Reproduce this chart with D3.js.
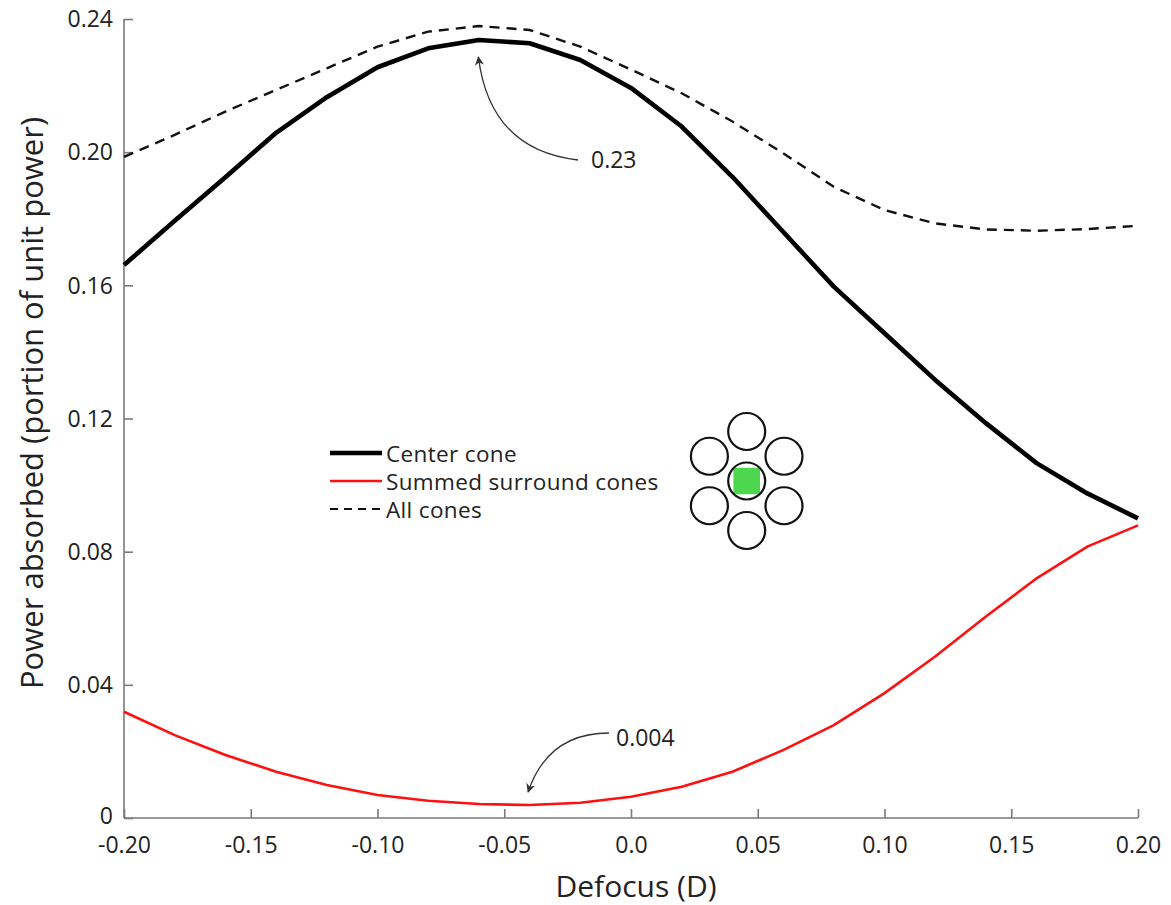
<!DOCTYPE html>
<html><head><meta charset="utf-8">
<script src="https://cdn.jsdelivr.net/npm/d3@7"></script>
<style>
html,body{margin:0;padding:0;background:#fff;}
text{font-family:"Open Sans","Noto Sans",sans-serif;}
</style></head>
<body>
<svg id="chart" width="1171" height="905"></svg>
<script>
const defocus = [-0.20,-0.18,-0.16,-0.14,-0.12,-0.10,-0.08,-0.06,-0.04,-0.02,0.00,0.02,0.04,0.06,0.08,0.10,0.12,0.14,0.16,0.18,0.20];
const centerCone = [0.1661,0.1794,0.1925,0.2058,0.2165,0.2255,0.2312,0.2337,0.2327,0.2277,0.2193,0.2077,0.1926,0.1761,0.1596,0.1456,0.1316,0.1186,0.1066,0.0975,0.0900];
const surroundCones = [0.0319,0.0249,0.0189,0.0139,0.0099,0.0069,0.0052,0.0042,0.0039,0.0046,0.0064,0.0094,0.0139,0.0204,0.0279,0.0375,0.0485,0.0605,0.0720,0.0815,0.0879];
const allCones = [0.1986,0.2052,0.2122,0.2187,0.2252,0.2317,0.2362,0.2379,0.2367,0.2317,0.2248,0.2177,0.2092,0.1997,0.1896,0.1826,0.1786,0.1768,0.1764,0.1769,0.1779];
const xTicks = [-0.20,-0.15,-0.10,-0.05,0.0,0.05,0.10,0.15,0.20];
const xTickLabels = ["-0.20","-0.15","-0.10","-0.05","0.0","0.05","0.10","0.15","0.20"];
const yTicks = [0,0.04,0.08,0.12,0.16,0.20,0.24];
const yTickLabels = ["0","0.04","0.08","0.12","0.16","0.20","0.24"];
const legendLabels = ["Center cone","Summed surround cones","All cones"];
const annotations = [{label:"0.23", x:-0.06, y:0.2337},{label:"0.004", x:-0.04, y:0.0039}];

const svg = d3.select("#chart");
const m = {left:124, right:1171-1138, top:19, bottom:905-818};
const W = 1171, H = 905;
const x = d3.scaleLinear().domain([-0.20,0.20]).range([m.left, W-m.right]);
const y = d3.scaleLinear().domain([0,0.24]).range([H-m.bottom, m.top]);
const axisColor = "#7a7a7a";

// axes
const gx = svg.append("g").attr("transform",`translate(0,${y(0)})`)
  .call(d3.axisBottom(x).tickValues(xTicks).tickSize(-9).tickPadding(0).tickFormat((d,i)=>xTickLabels[i]));
gx.select(".domain").attr("stroke",axisColor).attr("stroke-width",1.6).attr("d",`M${x(-0.2)},0H${x(0.2)}`);
gx.selectAll(".tick line").attr("stroke",axisColor).attr("stroke-width",1.6);
gx.selectAll(".tick text").attr("font-size",23).attr("fill","#222").attr("y",34.5).attr("dy",0);

const gy = svg.append("g").attr("transform",`translate(${x(-0.2)},0)`)
  .call(d3.axisLeft(y).tickValues(yTicks).tickSize(-9).tickPadding(0).tickFormat((d,i)=>yTickLabels[i]));
gy.select(".domain").attr("stroke",axisColor).attr("stroke-width",1.6).attr("d",`M0,${y(0.24)}V${y(0)}`);
gy.selectAll(".tick line").attr("stroke",axisColor).attr("stroke-width",1.6);
gy.selectAll(".tick text").attr("font-size",23).attr("fill","#222").attr("x",-11)
  .attr("dy",d=>d===0 ? "0.24em" : "0.34em");

svg.append("text").attr("x",x(0)+5).attr("y",897).attr("text-anchor","middle")
  .attr("font-size",30).attr("fill","#222").text("Defocus (D)");
svg.append("text").attr("transform",`translate(43,403) rotate(-90)`).attr("text-anchor","middle")
  .attr("font-size",31).attr("fill","#222").text("Power absorbed (portion of unit power)");

// lines
const line = d3.line().x((d,i)=>x(defocus[i])).y(d=>y(d));
svg.append("path").datum(allCones).attr("d",line).attr("fill","none").attr("stroke","#111")
  .attr("stroke-width",2.4).attr("stroke-dasharray","10,7");
svg.append("path").datum(surroundCones).attr("d",line).attr("fill","none").attr("stroke","#ff1010")
  .attr("stroke-width",2.6);
svg.append("path").datum(centerCone).attr("d",line).attr("fill","none").attr("stroke","#000")
  .attr("stroke-width",4.6).attr("stroke-linejoin","round");

// legend
const legendStyles = [{c:"#000",w:4.6,d:null},{c:"#ff1010",w:2.4,d:null},{c:"#111",w:2.2,d:"8,6"}];
const lg = svg.append("g");
legendLabels.forEach((lab,i)=>{
  const yy = 453 + i*28;
  lg.append("line").attr("x1",330).attr("x2",382).attr("y1",yy).attr("y2",yy)
    .attr("stroke",legendStyles[i].c).attr("stroke-width",legendStyles[i].w)
    .attr("stroke-dasharray",legendStyles[i].d);
  lg.append("text").attr("x",386).attr("y",yy+8.5).attr("font-size",22.5)
    .attr("letter-spacing","0.35px").attr("fill","#222").text(lab);
});

// cone mosaic icon
const icon = svg.append("g").attr("transform","translate(746.7,481)");
const r = 18.5, dRing = 49.5;
icon.append("rect").attr("x",-13.3).attr("y",-13.3).attr("width",26.6).attr("height",26.6).attr("rx",3)
  .attr("fill","#4fd64f");
d3.range(6).forEach(k=>{
  const a = Math.PI/2 + k*Math.PI/3;
  icon.append("circle").attr("cx",Math.cos(a)*dRing*0.87).attr("cy",-Math.sin(a)*dRing)
    .attr("r",r).attr("fill","none").attr("stroke","#111").attr("stroke-width",2.2);
});
icon.append("circle").attr("r",r).attr("fill","none").attr("stroke","#111").attr("stroke-width",2.2);

// annotations
const defs = svg.append("defs");
defs.append("marker").attr("id","ah").attr("viewBox","0 0 10 10").attr("refX",9).attr("refY",5)
  .attr("markerWidth",7).attr("markerHeight",7).attr("orient","auto-start-reverse")
  .append("path").attr("d","M0,0L10,5L0,10L3,5Z").attr("fill","#333");
// 0.23 arrow
const a0 = annotations[0];
const tip0 = [x(a0.x)-0.5, y(a0.y)+17];
svg.append("path").attr("d",`M578,160 Q490,150 ${tip0[0]},${tip0[1]}`)
  .attr("fill","none").attr("stroke","#333").attr("stroke-width",1.3).attr("marker-end","url(#ah)");
svg.append("text").attr("x",591).attr("y",168).attr("font-size",23).attr("fill","#222").text(a0.label);
// 0.004 arrow
const a1 = annotations[1];
const tip1 = [x(a1.x)-1.5, y(a1.y)-13];
svg.append("path").attr("d",`M609,733 Q548,733 ${tip1[0]},${tip1[1]}`)
  .attr("fill","none").attr("stroke","#333").attr("stroke-width",1.3).attr("marker-end","url(#ah)");
svg.append("text").attr("x",616).attr("y",746).attr("font-size",23).attr("fill","#222").text(a1.label);
</script>
</body></html>
